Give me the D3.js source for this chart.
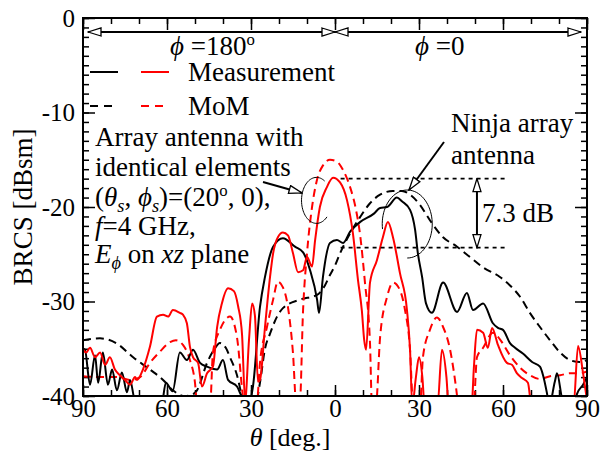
<!DOCTYPE html>
<html>
<head>
<meta charset="utf-8">
<script src="https://cdn.jsdelivr.net/npm/d3@7"></script>
<style>
body { margin: 0; background: #fff; }
svg text { font-family: "Liberation Serif", "Times New Roman", serif; fill: #000; }
</style>
</head>
<body>
<div id="chart"></div>
<script>
// theta in degrees: negative = phi=180 side (left), positive = phi=0 side (right)
// values below -40 dB are just drawn under the clip
const measNinja = [[-90,-35.0],[-89.3,-35.1],[-87.5,-38.8],[-85.7,-35.7],[-84.6,-38.6],[-82.9,-35.4],[-81.1,-38.8],[-79.6,-37.2],[-77.9,-39.4],[-76.1,-37.5],[-74.3,-39.6],[-73.2,-38.3],[-71.4,-40.5],[-62,-41],[-60.4,-38.6],[-58,-39.5],[-55.4,-35.4],[-52.9,-36.2],[-50.7,-35.1],[-48.2,-36.5],[-45.7,-36.9],[-42.1,-37.2],[-40,-36.2],[-38.2,-38.3],[-35,-39],[-32.9,-40.2],[-30.4,-40.5],[-29.3,-39],[-26.8,-30.6],[-25,-27.4],[-22.1,-24.2],[-18.6,-23.3],[-14.3,-24.2],[-11.4,-24.8],[-8.9,-26.7],[-6.4,-29.8],[-5.7,-31.2],[-4.3,-27.4],[-1.8,-23.8],[0.7,-23.5],[2.9,-23.8],[5.4,-22.6],[8.9,-21.6],[13.9,-20.7],[16.1,-20.1],[18.6,-20.0],[22.1,-19.0],[23.9,-19.4],[26.8,-20.3],[28.6,-22.4],[29.6,-24.9],[31.1,-27.4],[32.5,-30.2],[34.6,-31.2],[38.6,-28.0],[43.6,-31.1],[47.1,-29.1],[49.3,-30.9],[52.9,-30.2],[56.4,-32.3],[58.2,-32.8],[60,-33.0],[62.5,-34.4],[64.3,-34.9],[67.1,-35.5],[70.4,-36.4],[73.2,-36.9],[74.3,-37.8],[75.7,-39.7],[76.5,-41],[78.5,-38.5],[79.3,-37.6],[81.1,-40.3],[82,-41],[85.5,-41],[86.4,-39.8],[88.6,-38.8],[90,-38]];

const momNinja = [[-90,-34.1],[-83.9,-33.9],[-78.2,-34.4],[-72.1,-35.9],[-66.1,-37.2],[-61.4,-38.3],[-57.9,-39.4],[-53.6,-40.0],[-50.7,-39.8],[-49.3,-39.4],[-45.7,-36.5],[-43,-35.0],[-41.1,-34.4],[-39,-34.9],[-37.5,-35.9],[-35,-37.8],[-33.2,-40],[-31.5,-41],[-28.5,-41],[-26.8,-38.6],[-25,-35.0],[-23.2,-33.4],[-20.7,-31.6],[-18.6,-30.7],[-12.5,-29.8],[-6.4,-29.3],[-3.6,-28.3],[-1.8,-27.2],[0,-26.2],[1.8,-24.9],[5.4,-22.8],[8.9,-21.1],[12.5,-19.6],[16.1,-18.7],[20.7,-18.3],[23.9,-18.3],[26.8,-18.7],[30.4,-19.8],[33.9,-21.4],[38.6,-23.2],[43.6,-24.2],[48.2,-25.3],[52.9,-26.4],[58.9,-27.4],[62.5,-28.3],[66.1,-29.5],[69.6,-31.2],[73.2,-32.7],[76.8,-34.1],[80.4,-35.4],[83.9,-36.2],[87.5,-36.4],[90,-36.2]];

const measIdent = [[-90,-35.1],[-88.9,-35.4],[-87.5,-34.9],[-85.7,-35.9],[-83.9,-35.4],[-82.1,-36.7],[-80.4,-35.9],[-78.6,-37.2],[-76.8,-37.8],[-75,-38.3],[-73.2,-38.8],[-71.4,-38.0],[-70.7,-38.3],[-68.6,-37.2],[-66.1,-34.8],[-63.6,-31.6],[-61.4,-31.4],[-59.6,-31.6],[-57.9,-30.9],[-55.4,-31.2],[-54.3,-31.4],[-52.9,-32.3],[-51.8,-34.8],[-50.7,-35.9],[-48.9,-36.5],[-47.5,-39],[-45.7,-37.6],[-43.6,-36.9],[-42.1,-32.7],[-40.4,-30.2],[-38.2,-28.6],[-36.1,-28.9],[-34.6,-30.5],[-33.2,-33.5],[-32.1,-40.5],[-30.7,-34],[-29.6,-30.2],[-28.6,-31.5],[-27.5,-38.5],[-26.8,-38.3],[-25,-32.7],[-23.2,-27.4],[-22.1,-24.9],[-20.4,-23.2],[-18.6,-22.7],[-16.8,-23.0],[-15,-24.9],[-13.2,-26.9],[-11.4,-26.7],[-10,-25.3],[-8.2,-26.3],[-7.1,-23.5],[-5.4,-20.0],[-2.9,-17.9],[-0.7,-16.9],[1.8,-17.4],[4.3,-19.3],[6.4,-22.8],[8.2,-27.7],[9.6,-31],[10.4,-34],[11.1,-35.1],[12.5,-28],[15,-25.6],[17.1,-23.2],[18.9,-21.6],[20.7,-23.2],[23.2,-27],[25.7,-30.9],[26.8,-35.1],[27.6,-41],[28.9,-38],[30.0,-35.9],[31.2,-38],[32,-41],[36.6,-41],[38.2,-35.1],[39.8,-38],[40.6,-41],[48.8,-41],[49.6,-37],[50.7,-33.0],[52.9,-33.3],[54.6,-34.9],[56.1,-32.8],[58.2,-34.6],[61.4,-36.5],[63.2,-36.7],[65,-37.6],[66.8,-38.1],[68.9,-38.6],[70.2,-41],[85.2,-41],[86.8,-34.7],[88.6,-37.6],[90,-40.5]];

const momIdent = [[-90,-37.9],[-84,-38.0],[-78,-38.0],[-73,-38.3],[-69.6,-38.0],[-66.1,-36.5],[-62.5,-35.3],[-58.9,-34.3],[-56.8,-34.1],[-54.3,-34.6],[-51.8,-36.2],[-50,-38.6],[-49.2,-41],[-44.6,-41],[-43.6,-35.4],[-41.1,-33.0],[-37.5,-31.6],[-35,-33.8],[-32.9,-40],[-32.4,-41],[-28,-41],[-26.8,-36.5],[-24.3,-32.7],[-22.1,-29.8],[-20.4,-27.9],[-18.6,-28.5],[-16.8,-30.6],[-15,-35.5],[-13.8,-41],[-12.6,-41],[-11.4,-30.9],[-10,-24.9],[-8.2,-20.0],[-6.4,-17.1],[-4.3,-15.6],[-1.8,-15.0],[0.7,-15.2],[2.9,-16.1],[5.4,-17.9],[7.5,-20.3],[8.9,-22.8],[10.7,-28],[12.5,-34.4],[13.2,-41],[14.6,-41],[16.1,-33.8],[18.6,-29.5],[20.7,-28.0],[23.2,-28.8],[25,-30.9],[26.8,-35.1],[27.9,-41],[30.4,-41],[31.4,-35.9],[33.9,-33.0],[36.4,-31.7],[38.6,-32.7],[41.1,-35.1],[43.6,-40],[44,-41],[49.5,-41],[50.7,-35.9],[52.9,-34.9],[56.4,-33.3],[58.9,-34.0],[62.5,-35.7],[66.1,-37.0],[69.6,-37.8],[73.2,-38.2],[76.8,-37.9],[80.4,-37.8],[83.9,-37.6],[87.5,-37.6],[90,-37.4]];

const xMajor = [-90, -60, -30, 0, 30, 60, 90];
const yMajor = [0, -10, -20, -30, -40];
const peakLevels = [-17.0, -24.3];   // dotted reference lines, 7.3 dB apart

const W = 600, H = 459;
const L = 83, R = 587, T = 18, B = 396;

const svg = d3.select("#chart").append("svg")
    .attr("width", W).attr("height", H);

svg.append("rect").attr("width", W).attr("height", H).attr("fill", "white");

const x = d3.scaleLinear().domain([-90, 90]).range([L, R]);
const y = d3.scaleLinear().domain([-40, 0]).range([B, T]);

// markers
const defs = svg.append("defs");
defs.append("marker")
    .attr("id", "arr")
    .attr("viewBox", "-1 -1 15 10")
    .attr("refX", 13).attr("refY", 4)
    .attr("markerWidth", 15).attr("markerHeight", 10)
    .attr("markerUnits", "userSpaceOnUse")
    .attr("orient", "auto-start-reverse")
    .append("path")
    .attr("d", "M0,0 L13,4 L0,8 Z")
    .attr("fill", "white").attr("stroke", "black").attr("stroke-width", 1.3);

defs.append("clipPath").attr("id", "plot")
    .append("rect").attr("x", L).attr("y", T).attr("width", R - L).attr("height", B - T);

// ticks (inside)
function styleAxis(g) {
    g.select(".domain").remove();
    g.selectAll(".tick line").attr("stroke", "black").attr("stroke-width", 1.5);
    g.selectAll(".tick text")
        .style("font-family", "'Liberation Serif', serif")
        .style("font-size", "25px").attr("fill", "black");
}
const fmtX = d => Math.abs(d);
svg.append("g").attr("transform", `translate(0,${B})`)
    .call(d3.axisBottom(x).tickValues(d3.range(-90, 91, 10)).tickSize(-6).tickFormat(""))
    .call(styleAxis);
svg.append("g").attr("transform", `translate(0,${B})`)
    .call(d3.axisBottom(x).tickValues(xMajor).tickSize(-11).tickPadding(3).tickFormat(fmtX))
    .call(styleAxis);
svg.append("g").attr("transform", `translate(0,${T})`)
    .call(d3.axisTop(x).tickValues(d3.range(-90, 91, 10)).tickSize(-6).tickFormat(""))
    .call(styleAxis);
svg.append("g").attr("transform", `translate(0,${T})`)
    .call(d3.axisTop(x).tickValues(xMajor).tickSize(-12).tickFormat(""))
    .call(styleAxis);
svg.append("g").attr("transform", `translate(${L},0)`)
    .call(d3.axisLeft(y).tickValues(d3.range(-40, 1, 1)).tickSize(-6).tickFormat(""))
    .call(styleAxis);
svg.append("g").attr("transform", `translate(${L},0)`)
    .call(d3.axisLeft(y).tickValues(yMajor).tickSize(-12).tickPadding(8).tickFormat(d => d === 0 ? "0" : "-" + Math.abs(d)))
    .call(styleAxis);
svg.append("g").attr("transform", `translate(${R},0)`)
    .call(d3.axisRight(y).tickValues(d3.range(-40, 1, 1)).tickSize(-6).tickFormat(""))
    .call(styleAxis);
svg.append("g").attr("transform", `translate(${R},0)`)
    .call(d3.axisRight(y).tickValues(yMajor).tickSize(-12).tickFormat(""))
    .call(styleAxis);

// curves
const line = d3.line().x(d => x(d[0])).y(d => y(d[1])).curve(d3.curveMonotoneX);
const series = [
    {data: momNinja, color: "black", dash: "8,5"},
    {data: momIdent, color: "red", dash: "8,5"},
    {data: measNinja, color: "black", dash: null},
    {data: measIdent, color: "red", dash: null}
];
const curves = svg.append("g").attr("clip-path", "url(#plot)");
curves.selectAll("path").data(series).join("path")
    .attr("d", d => line(d.data))
    .attr("fill", "none")
    .attr("stroke", d => d.color)
    .attr("stroke-width", 2)
    .attr("stroke-dasharray", d => d.dash);

// frame
svg.append("rect").attr("x", L).attr("y", T).attr("width", R - L).attr("height", B - T)
    .attr("fill", "none").attr("stroke", "black").attr("stroke-width", 2);

// phi range arrows along the top
const arrowY = 32;
[[x(-90) + 5, x(0)], [x(0), x(90) - 6]].forEach(([a, b]) => {
    svg.append("line").attr("x1", a).attr("x2", b).attr("y1", arrowY).attr("y2", arrowY)
        .attr("stroke", "black").attr("stroke-width", 2)
        .attr("marker-start", "url(#arr)").attr("marker-end", "url(#arr)");
});

const FS = 27;
// sub/superscripts are shifted with dy and shifted back on the next part
function addText(xp, yp, parts, size, anchor) {
    const fs = size || FS;
    const t = svg.append("text").attr("x", xp).attr("y", yp)
        .style("font-size", fs + "px")
        .attr("text-anchor", anchor || "start");
    let shift = 0;
    parts.forEach(p => {
        const s = t.append("tspan").text(p.t);
        let want = 0;
        if (p.sub) { want = fs * 0.22; s.style("font-size", fs * 0.68 + "px"); }
        if (p.sup) { want = -fs * 0.36; s.style("font-size", fs * 0.62 + "px"); }
        if (want !== shift) { s.attr("dy", want - shift); shift = want; }
        if (p.i) s.style("font-style", "italic");
    });
    return t;
}

addText(170, 55, [{t: "\u03D5", i: true}, {t: " =180"}, {t: "o", sup: true}]);
addText(415, 55, [{t: "\u03D5", i: true}, {t: " =0"}]);

// legend
const leg = [
    {y: 72, dash: null, label: "Measurement", len: 28},
    {y: 106, dash: "8,6", label: "MoM", len: 22}
];
leg.forEach(d => {
    svg.append("line").attr("x1", 90).attr("x2", 90 + d.len).attr("y1", d.y).attr("y2", d.y)
        .attr("stroke", "black").attr("stroke-width", 2).attr("stroke-dasharray", d.dash);
    svg.append("line").attr("x1", 141).attr("x2", 141 + d.len).attr("y1", d.y).attr("y2", d.y)
        .attr("stroke", "red").attr("stroke-width", 2).attr("stroke-dasharray", d.dash);
    addText(188, d.y + 9, [{t: d.label}]);
});

// left annotation block
addText(95, 146, [{t: "Array antenna with"}]);
addText(95, 176, [{t: "identical elements"}]);
addText(95, 206, [{t: "("}, {t: "\u03B8", i: true}, {t: "s", i: true, sub: true}, {t: ", "},
    {t: "\u03D5", i: true}, {t: "s", i: true, sub: true}, {t: ")=(20"}, {t: "o", sup: true}, {t: ", 0),"}]);
addText(95, 235, [{t: "f", i: true}, {t: "=4 GHz,"}]);
addText(95, 263, [{t: "E", i: true}, {t: "\u03D5", i: true, sub: true}, {t: " on "}, {t: "xz", i: true}, {t: " plane"}]);

addText(451, 132, [{t: "Ninja array"}]);
addText(451, 164, [{t: "antenna"}]);

// dotted reference lines and 7.3 dB arrow
peakLevels.forEach(v => {
    svg.append("line").attr("x1", x(2)).attr("x2", x(61)).attr("y1", y(v)).attr("y2", y(v))
        .attr("stroke", "black").attr("stroke-width", 1.6).attr("stroke-dasharray", "4,4");
});
svg.append("line").attr("x1", x(50.7)).attr("x2", x(50.7))
    .attr("y1", y(peakLevels[0])).attr("y2", y(peakLevels[1]))
    .attr("stroke", "black").attr("stroke-width", 2)
    .attr("marker-start", "url(#arr)").attr("marker-end", "url(#arr)");
addText(482, 222, [{t: "7.3 dB"}]);

// ellipses around the two main beams
function arc(cx, cy, rx, ry, t0, t1) {
    const pts = d3.range(0, 61).map(i => {
        const t = t0 + (t1 - t0) * i / 60;
        return [cx + rx * Math.cos(t), cy + ry * Math.sin(t)];
    });
    return d3.line()(pts);
}
svg.append("path").attr("d", arc(x(-6.6), y(-19.3), 15, 23, -1.0, -2 * Math.PI + 0.8))
    .attr("fill", "none").attr("stroke", "black").attr("stroke-width", 1);
svg.append("path").attr("d", arc(x(25.8), y(-21.8), 25, 34, Math.PI - 0.15, 2.5 * Math.PI))
    .attr("fill", "none").attr("stroke", "black").attr("stroke-width", 1);

// pointer arrows
svg.append("line").attr("x1", 263).attr("y1", 182).attr("x2", 302).attr("y2", 193)
    .attr("stroke", "black").attr("stroke-width", 2).attr("marker-end", "url(#arr)");
svg.append("line").attr("x1", 444).attr("y1", 142).attr("x2", 409).attr("y2", 190)
    .attr("stroke", "black").attr("stroke-width", 2).attr("marker-end", "url(#arr)");

// axis titles
addText(290, 446, [{t: "\u03B8", i: true}, {t: " [deg.]"}], 26, "middle");
svg.append("text")
    .attr("transform", `translate(32,${(T + B) / 2}) rotate(-90)`)
    .attr("text-anchor", "middle")
    .style("font-size", "27px")
    .text("BRCS [dBsm]");
</script>
</body>
</html>
